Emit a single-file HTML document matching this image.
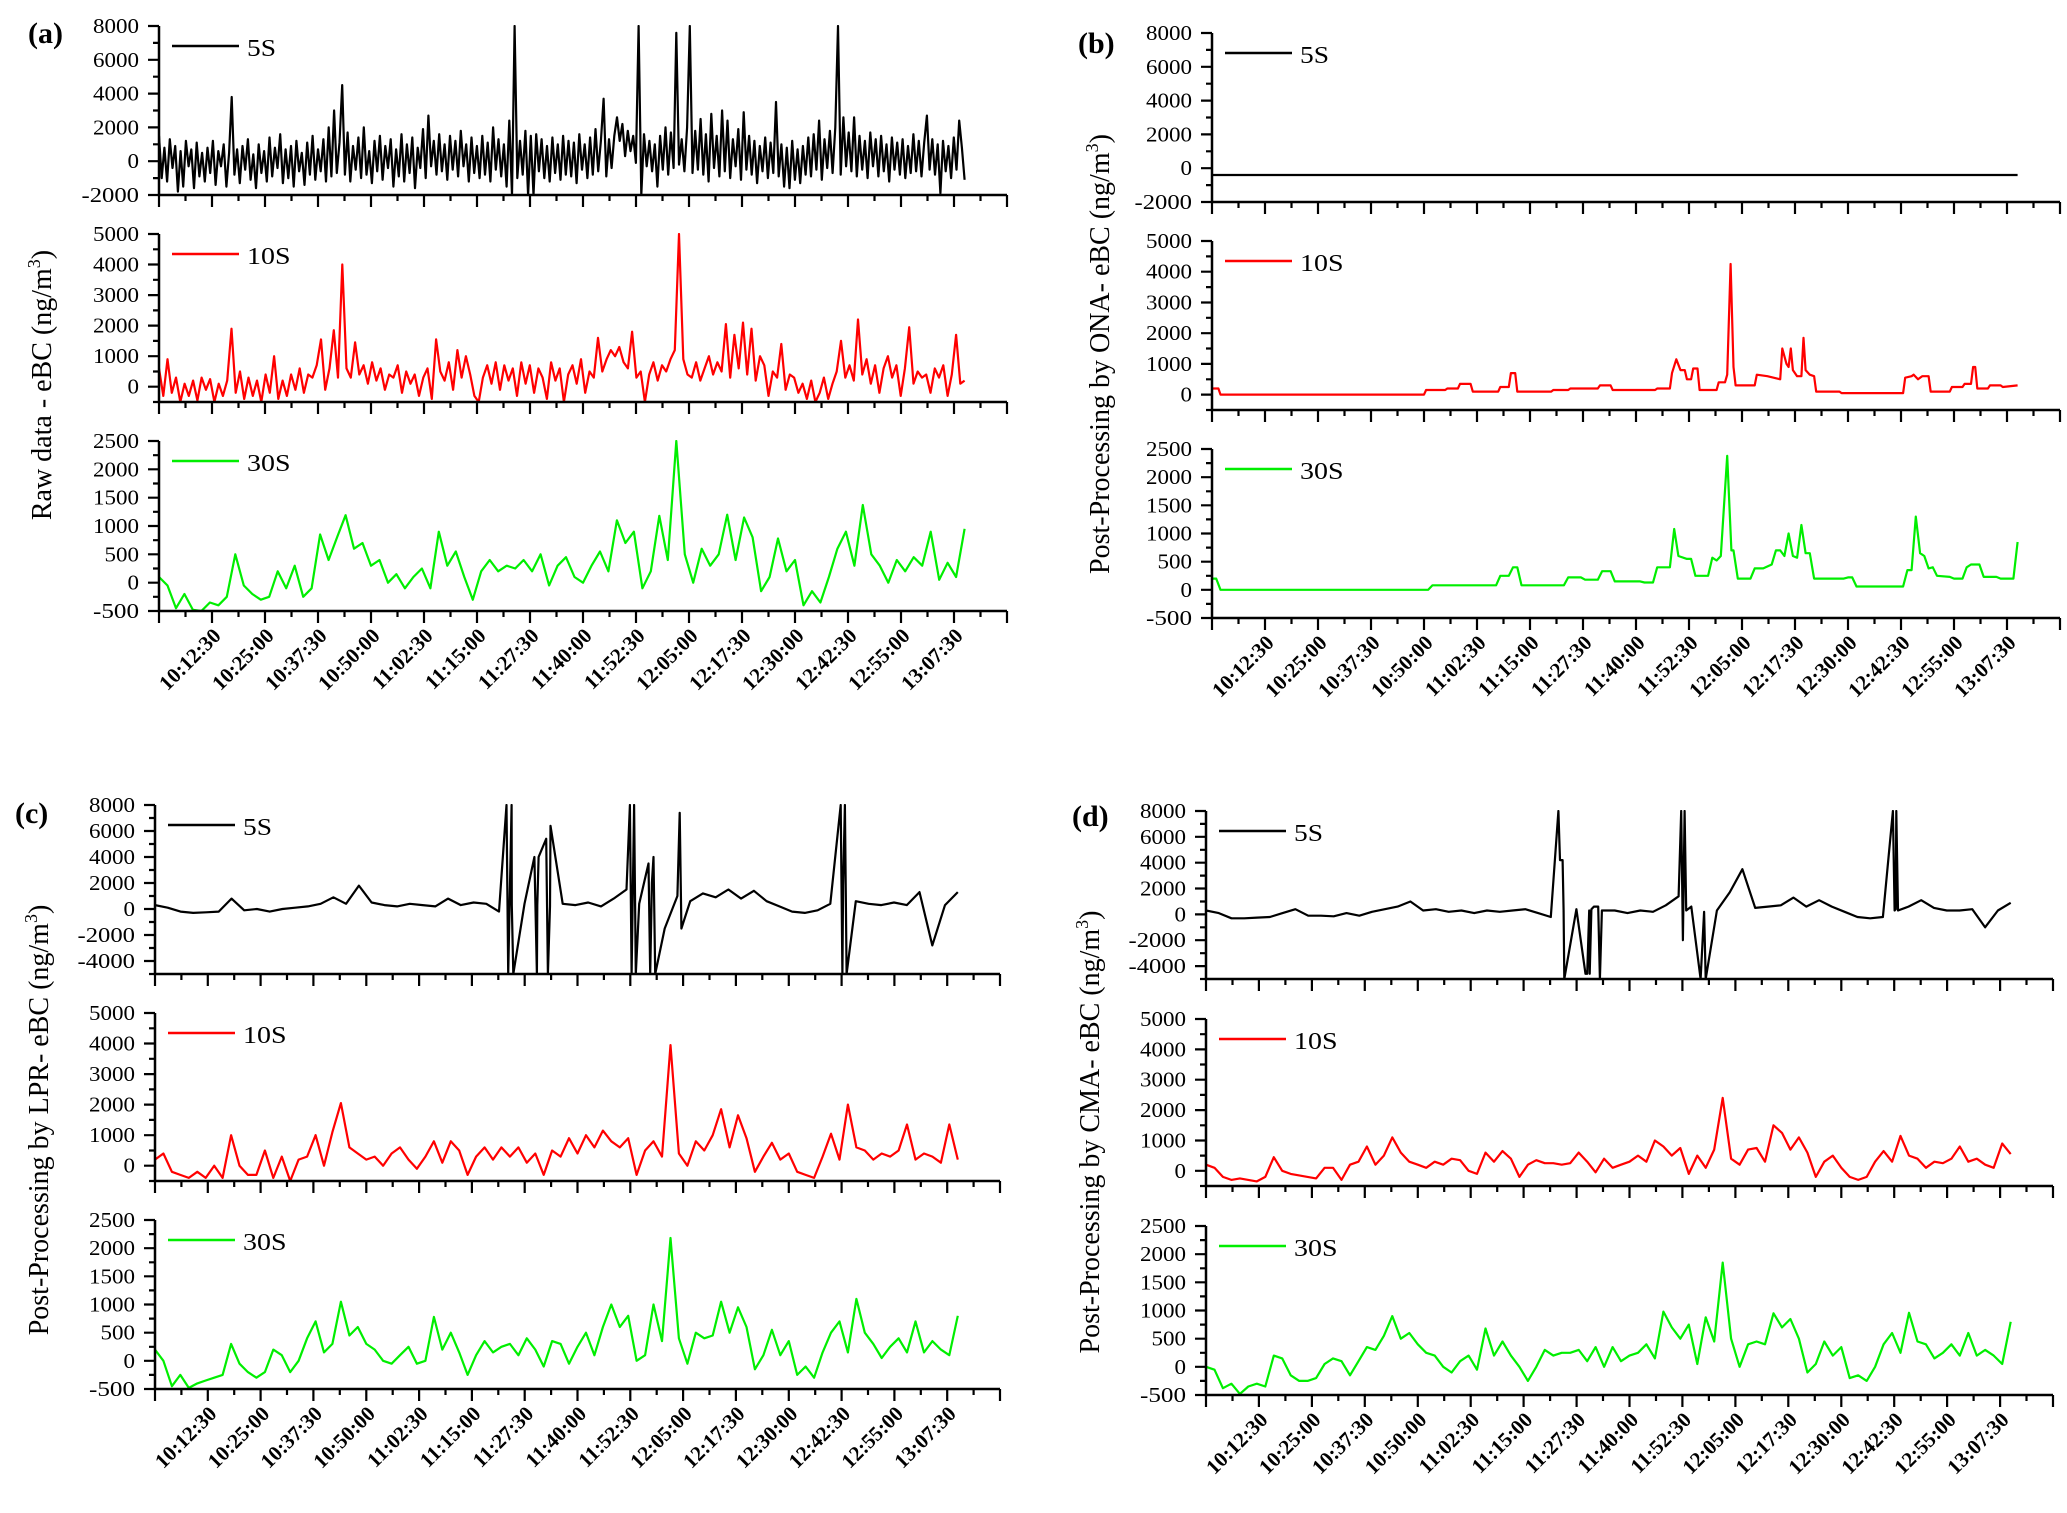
<!DOCTYPE html>
<html><head><meta charset="utf-8"><style>
html,body{margin:0;padding:0;background:#fff;}
svg{display:block;}
text{font-family:"Liberation Serif","Times New Roman",serif;fill:#000;}
</style></head><body>
<svg id="chart" width="2067" height="1513" viewBox="0 0 2067 1513" xmlns="http://www.w3.org/2000/svg"></svg>
<script>
// ---------- time range (minutes after 10:00:00) ----------
const tStart = 0;
const tEnd = 190;
const xTickLabels = ["10:12:30","10:25:00","10:37:30","10:50:00","11:02:30","11:15:00","11:27:30","11:40:00","11:52:30","12:05:00","12:17:30","12:30:00","12:42:30","12:55:00","13:07:30"];
const legendNames = ["5S","10S","30S"];
const panelLabels = ["(a)","(b)","(c)","(d)"];
const yTitles = ["Raw data - eBC (ng/m","Post-Processing by ONA- eBC (ng/m","Post-Processing by LPR- eBC (ng/m","Post-Processing by CMA- eBC (ng/m"];

// ---------- panel (a) raw data ----------
const a5 = [1500,-1000,800,-1200,1300,-400,900,-1800,600,-1500,1200,-300,700,-1600,1100,-900,500,-1200,800,-700,
1200,-1400,600,-300,1000,-1500,500,3800,-800,700,-1300,900,-500,1300,-1100,400,-1600,1000,-700,600,
-1200,1400,-900,800,-400,1600,-1300,700,-1000,900,-1500,1200,-600,500,-1400,1100,-800,1500,-1100,700,
-600,1300,-1200,2000,-900,3000,-700,1100,4500,-800,1700,-1200,900,-500,1400,-1000,2000,-800,600,-1300,
1200,-600,1500,-1100,900,-400,1300,-1500,700,-900,1600,-1200,1000,-700,1400,-1600,800,-400,1900,-1000,
2700,-300,1200,-800,1600,-600,1000,-1100,1500,-500,1200,-900,1800,-300,1000,-1200,1400,-700,900,-1000,
1500,-800,1100,-1200,2000,-500,1300,-900,1000,-1500,2400,-2000,8000,-1000,1200,-800,1800,-2000,1500,-2000,
1600,-600,1300,-1000,900,-1200,1400,-700,1000,-1100,1500,-800,1200,-900,1100,-1300,1600,-500,1000,-1000,
1400,-800,1900,-600,1200,3700,-900,1300,-400,1500,2600,1200,2200,300,1800,600,1500,-100,8000,-2000,
1600,-300,1200,-600,1000,-1500,1500,-500,2000,-800,1700,-400,7600,-200,1300,-600,2000,8000,-700,1800,
-500,2500,-800,1600,-1200,2800,-400,1500,-900,3000,-600,2400,-1000,1300,-300,1900,-1100,2900,-500,1500,
-800,1200,-1300,900,-600,1400,-1000,1100,-700,3500,-900,1000,-1500,800,-1600,1200,-1100,700,-1300,900,
-800,1400,-900,1600,-500,2400,-1100,1300,-400,1800,-700,2000,8000,-800,2600,-300,1700,-600,2600,-900,
1500,-500,1200,-1000,1700,-300,1300,-900,1500,-600,1000,-1200,1400,-500,1100,-800,1300,-1000,900,-700,
1600,-600,1200,-900,1100,2700,-500,1300,-800,1000,-1900,1200,-600,900,-1000,1400,-500,2400,800,-1100];
const a10 = [600,-300,900,-200,300,-500,100,-300,200,-450,300,-100,250,-500,100,-300,200,1900,-200,500,
-400,300,-300,200,-500,400,-200,1000,-400,200,-300,400,-100,600,-200,400,300,700,1550,-100,
600,1850,300,4000,600,300,1450,400,700,100,800,200,600,-100,400,300,700,-200,500,100,
400,-300,300,600,-400,1550,500,200,800,-100,1200,300,1000,400,-300,-500,300,700,100,800,
-100,700,200,600,-300,800,100,700,-200,600,300,-400,800,200,600,-500,400,700,100,900,
-200,500,300,1600,500,900,1200,1000,1300,800,600,1800,300,500,-500,400,800,200,700,500,
900,1200,5000,900,400,300,800,200,600,1000,400,800,500,2050,300,1700,600,2100,400,1900,
200,1000,700,-300,500,300,1400,-100,400,300,-200,100,-400,200,-500,-200,300,-400,100,500,
1500,300,700,200,2200,400,900,100,700,-200,600,1000,300,700,-300,600,1950,100,500,300,
400,-200,600,300,700,-300,400,1700,100,200];
const a30 = [100,-50,-450,-200,-480,-500,-350,-400,-250,500,-50,-200,-300,-250,200,-100,300,-250,-100,850,400,800,1190,600,700,300,400,0,150,-100,100,250,-100,900,300,550,100,-300,200,400,200,300,250,400,200,500,-50,300,450,100,0,300,550,200,1100,700,900,-100,200,1180,400,2500,500,0,600,300,500,1200,400,1150,800,-150,100,780,200,400,-400,-150,-350,100,600,900,300,1370,500,300,0,400,200,450,300,900,50,350,100,950];

// ---------- panel (b) ONA ----------
const b5 = [-400,-400];
const b10T = [0,1.5,2,50,50.5,55,55.5,58,58.5,61,61.5,67.5,68,70,70.5,71.5,72,80,80.5,84,84.5,91,91.5,94,94.5,104.5,105,108,108.5,109.5,110.5,111.5,112,113,113.5,114.5,115,119,119.5,121,121.5,122.3,123,123.5,128,128.5,131,134,134.5,135.5,136,136.5,137,138,139,139.5,140,141,142,142.5,148,148.5,163,163.5,165,165.5,166.5,167.5,169,169.5,174,174.5,177,177.5,179,179.5,180,180.5,183,183.5,186,186.5,190];
const b10V = [200,200,0,0,150,150,200,200,350,350,100,100,250,250,700,700,100,100,150,150,200,200,300,300,150,150,200,200,700,1150,800,800,500,500,850,850,150,150,400,400,650,4250,900,300,300,650,600,500,1500,1000,900,1500,800,600,600,1850,800,650,600,100,100,50,50,550,600,650,500,600,600,100,100,250,250,350,350,900,900,200,200,300,300,250,300];
const b30T = [0,1,2,51,52,67,68,70,71,72,73,83,84,87,88,91,92,94,95,101,102,104,105,107,108,109,110,112,113,114,117,118,119,120,121.5,122.5,123,124,127,128,130,132,133,134,135,136,137,138,139,140,141,142,149,150,151,152,163,164,165,166,167,168,169,170,171,174,175,177,178,179,181,182,185,186,189,190];
const b30V = [200,200,0,0,80,80,250,250,400,400,80,80,220,220,180,180,330,330,150,150,130,130,400,400,400,1080,600,550,550,250,250,570,520,600,2380,700,700,200,200,380,380,450,700,700,600,1000,600,570,1150,650,650,200,200,220,220,60,60,350,350,1300,650,600,380,400,250,230,200,200,400,450,450,230,230,200,200,850];

// ---------- panel (c) LPR ----------
const c5 = [300,100,-200,-300,-250,-200,800,-100,0,-200,0,100,200,400,900,400,1800,500,300,200,400,300,200,800,300,500,400,-200,300,400,300,200,400,300,500,200,800,1500,400,2000,-1500,1000,600,1200,900,1500,800,1400,600,200,-200,-300,-100,400,1800,600,400,300,500,300,1300,-2800,300,1300];
const c5SpikeT = [83.2,83.6,84.4,84.8,89.8,90.4,90.8,92.6,93.0,93.6,112.4,112.8,113.4,113.8,116.8,117.2,118.0,118.4,124.2,124.6,162.3,162.7,163.3,163.7];
const c5SpikeV = [8000,-5000,8000,-5000,4000,-5000,4000,5400,-5000,6400,8000,-5000,8000,-5000,3500,-5000,4000,-5000,7400,-1500,8000,-5000,8000,-5000];
const c10 = [200,400,-200,-300,-400,-200,-400,0,-400,1000,0,-300,-300,500,-400,300,-500,200,300,1000,0,1100,2050,600,400,200,300,0,400,600,200,-100,300,800,100,800,500,-300,300,600,200,600,300,600,100,400,-300,500,300,900,400,1000,600,1150,800,600,900,-300,500,800,300,3950,400,0,800,500,1000,1850,600,1650,900,-200,300,750,200,400,-200,-300,-400,300,1050,200,2000,600,500,200,400,300,500,1350,200,400,300,100,1350,200];
const c30 = [200,0,-450,-250,-480,-400,-350,-300,-250,300,-50,-200,-300,-200,200,100,-200,0,400,700,150,300,1050,450,600,300,200,0,-50,100,250,-50,0,780,200,500,150,-250,100,350,150,250,300,100,400,200,-100,350,300,-50,250,500,100,600,1000,600,800,0,100,1000,350,2180,400,-50,500,400,450,1050,500,950,600,-150,100,550,100,350,-250,-100,-300,150,500,700,150,1100,500,300,50,250,400,150,700,150,350,200,100,800];

// ---------- panel (d) CMA ----------
const d5 = [300,100,-300,-300,-250,-200,100,400,-100,-100,-150,100,-100,200,400,600,1000,300,400,200,300,100,300,200,300,400,100,-200,300,400,300,300,300,100,300,200,700,1400,600,200,300,1700,3500,500,600,700,1300,600,1100,600,200,-200,-300,-200,400,600,1100,500,300,300,400,-1000,300,900];
const d5SpikeT = [83.2,83.6,84.2,84.6,89.6,90.0,90.6,91.0,91.6,92.6,93.0,112.2,112.6,113.0,113.4,116.8,118.0,162.2,162.6,163.0,163.4];
const d5SpikeV = [8000,4200,4200,-5000,-4600,-4600,-4600,400,600,600,-5000,8000,-2000,8000,300,-5000,-5000,8000,300,8000,300];
const d10 = [200,100,-200,-300,-250,-300,-350,-200,450,0,-100,-150,-200,-250,100,100,-300,200,300,800,200,500,1100,600,300,200,100,300,200,400,350,0,-100,600,300,650,400,-200,200,350,250,250,200,250,600,300,-50,400,100,200,300,500,300,1000,800,500,750,-100,500,100,700,2400,400,200,700,750,300,1500,1250,700,1100,600,-200,300,500,100,-200,-300,-200,300,650,300,1150,500,400,100,300,250,400,800,300,400,200,100,900,550];
const d30 = [0,-50,-380,-300,-480,-350,-300,-350,200,150,-150,-250,-250,-200,50,150,100,-150,100,350,300,550,900,500,600,400,250,200,0,-100,100,200,-50,680,200,450,200,0,-250,0,300,200,250,250,300,100,350,0,350,100,200,250,400,150,980,700,500,750,50,880,450,1850,500,0,400,450,400,950,700,850,500,-100,50,450,200,350,-200,-150,-250,0,400,600,250,960,450,400,150,250,400,200,600,200,300,200,50,800];

// ---------- geometry ----------
const svg = document.getElementById('chart');
const NS = 'http://www.w3.org/2000/svg';
function mk(tag, attrs, parent){ const e=document.createElementNS(NS,tag); for(const k in attrs) e.setAttribute(k,attrs[k]); (parent||svg).appendChild(e); return e; }

const panels = [
 {L:159,R:1007,subs:[[26,195],[234,402],[441,611]],lab:[28,43],tx:42,tcy:385,tall:false,
  series:[{ev:a5},{ev:a10},{ev:a30}]},
 {L:1212,R:2060,subs:[[33,202],[241,410],[449,618]],lab:[1078,53],tx:1100,tcy:354,tall:false,
  series:[{t:[tStart,tEnd],v:b5},{t:b10T,v:b10V},{t:b30T,v:b30V}]},
 {L:155,R:1000,subs:[[805,974],[1013,1181],[1220,1389]],lab:[15,823],tx:39,tcy:1120,tall:true,
  series:[{ev:c5,st:c5SpikeT,sv:c5SpikeV},{ev:c10},{ev:c30}]},
 {L:1206,R:2053,subs:[[811,979],[1019,1186],[1226,1395]],lab:[1072,826],tx:1090,tcy:1132,tall:true,
  series:[{ev:d5,st:d5SpikeT,sv:d5SpikeV},{ev:d10},{ev:d30}]}
];
const colors = ['#000000','#ff0000','#00ee00'];

function evenTimes(n){ const o=[]; for(let i=0;i<n;i++) o.push(tStart+i*(tEnd-tStart)/(n-1)); return o; }

panels.forEach((p,pi)=>{
  const g = mk('g',{});
  
  
  const xS = t => p.L + (t/200)*(p.R-p.L);
  const pl = mk('text',{x:p.lab[0],y:p.lab[1],'font-size':30,'font-weight':'bold'},g);
  pl.textContent = panelLabels[pi];
  
  
  const yt = mk('text',{x:0,y:0,'font-size':28,'text-anchor':'middle',transform:`translate(${p.tx+9},${p.tcy}) rotate(-90)`},g);
  
  
  yt.textContent = yTitles[pi];
  const sup = mk('tspan',{'font-size':18,dy:-11},yt); sup.textContent='3';
  const cl = mk('tspan',{dy:11},yt); cl.textContent=')';

  p.subs.forEach((s,si)=>{
    const [top,bot]=s;
    let dom, majors, minorStep;
    if(si===0){ dom = p.tall?[-5000,8000]:[-2000,8000]; majors=[]; for(let v=(p.tall?-4000:-2000); v<=8000; v+=2000) majors.push(v); minorStep=1000; }
    else if(si===1){ dom=[-500,5000]; majors=[0,1000,2000,3000,4000,5000]; minorStep=500; }
    else { dom=[-500,2500]; majors=[-500,0,500,1000,1500,2000,2500]; minorStep=250; }
    const yS = v => bot - (v-dom[0])/(dom[1]-dom[0])*(bot-top);
    const sg = mk('g',{},g);
    
    
    const cid='clip'+pi+si;
    const cp = mk('clipPath',{id:cid},sg); mk('rect',{x:p.L,y:top-1,width:p.R-p.L,height:bot-top+1},cp);
    const ser = p.series[si];
    let pts=[];
    if(ser.ev){ const tt=evenTimes(ser.ev.length); pts=tt.map((t,i)=>[t,ser.ev[i]]); }
    else pts=ser.t.map((t,i)=>[t,ser.v[i]]);
    if(ser.st){ ser.st.forEach((t,i)=>pts.push([t,ser.sv[i]])); pts.sort((a,b)=>a[0]-b[0]); }
    const d = pts.map((q,i)=>(i?'L':'M')+xS(q[0]).toFixed(1)+','+yS(q[1]).toFixed(1)).join('');
    const path = mk('path',{d:d,fill:'none',stroke:colors[si],'stroke-width':2.2,'stroke-linejoin':'round','clip-path':`url(#${cid})`},sg);
    
    
    const ax = mk('path',{d:`M${p.L},${top}V${bot}H${p.R}`,fill:'none',stroke:'#000','stroke-width':2.5},sg);
    
    
    let tk='';
    for(let v=dom[0]; v<=dom[1]+1e-6; v+=minorStep){ const y=yS(v); const isM = majors.includes(v); tk+=`M${p.L},${y.toFixed(1)}h${isM?-11:-6}`; }
    for(let i=0;i<=16;i++){ const x=p.L+i*(p.R-p.L)/16; tk+=`M${x.toFixed(1)},${bot}v12`; if(i<16) tk+=`M${(x+(p.R-p.L)/32).toFixed(1)},${bot}v6`; }
    mk('path',{d:tk,stroke:'#000','stroke-width':2.2,fill:'none'},sg);
    majors.forEach(v=>{
      const t = mk('text',{x:p.L-20,y:yS(v)+7,'font-size':21,'text-anchor':'end',textLength:(String(v).length*11.5),lengthAdjust:'spacingAndGlyphs'},sg);
      
      
      t.textContent=String(v);
    });
    const ly = top+20;
    const ll = mk('line',{x1:p.L+13,x2:p.L+80,y1:ly,y2:ly,stroke:colors[si],'stroke-width':2.5},sg);
    
    
    const lt = mk('text',{x:p.L+88,y:ly+10,'font-size':24,textLength:legendNames[si].length*14.5,lengthAdjust:'spacingAndGlyphs'},sg);
    
    
    lt.textContent=legendNames[si];
    if(si===2){
      xTickLabels.forEach((lab,i)=>{
        const x=p.L+(i+1)*(p.R-p.L)/16;
        const t = mk('text',{x:0,y:0,'font-size':21,'font-weight':'bold','text-anchor':'end',transform:`translate(${x+10},${bot+26}) rotate(-45)`},sg);
        
        
        t.textContent=lab;
      });
    }
  });
});
</script>
</body></html>
